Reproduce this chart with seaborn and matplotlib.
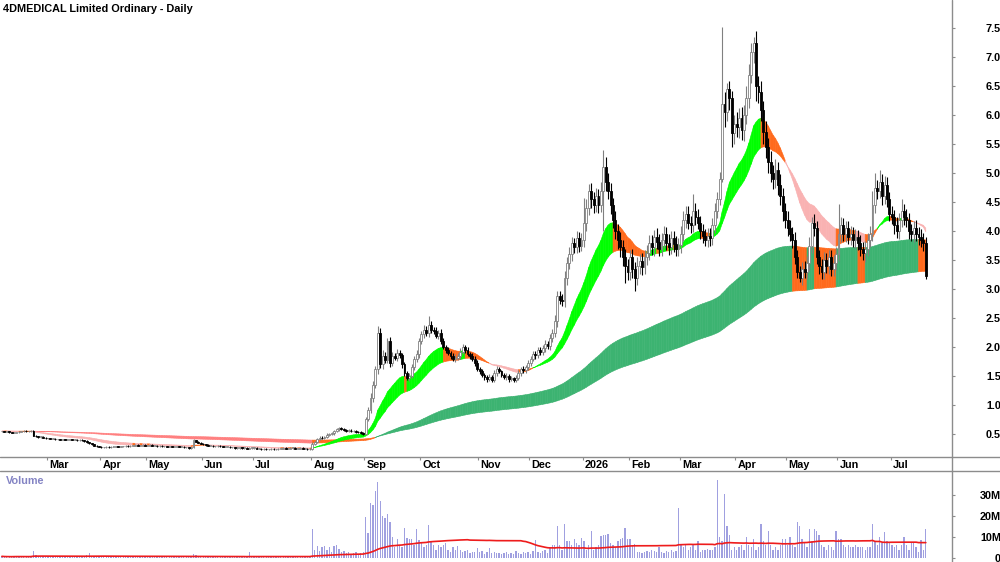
"""
4DMEDICAL daily candlestick chart with moving-average ribbons and volume panel.
"""

import numpy as np
import pandas as pd
import matplotlib
matplotlib.use('Agg')
import matplotlib.pyplot as plt
import matplotlib.transforms as mtransforms
from matplotlib.collections import PolyCollection
from matplotlib.lines import Line2D
import seaborn as sns

# Daily closes, one line per month (Feb 2025 .. Jul 2026)
close = [
    0.55, 0.54, 0.55, 0.53, 0.52, 0.52, 0.53, 0.54, 0.55, 0.56, 0.55, 0.55, 0.56, 0.47, 0.46, 0.45, 0.45, 0.44, 0.43,
    0.43, 0.42, 0.42, 0.41, 0.41, 0.40, 0.41, 0.40, 0.40, 0.41, 0.40, 0.40, 0.39, 0.40, 0.39, 0.38, 0.36, 0.34, 0.32, 0.30, 0.29, 0.28,
    0.27, 0.27, 0.28, 0.27, 0.28, 0.28, 0.29, 0.28, 0.29, 0.29, 0.30, 0.29, 0.30, 0.30, 0.31, 0.30, 0.30, 0.31, 0.30,
    0.30, 0.31, 0.30, 0.30, 0.29, 0.30, 0.29, 0.29, 0.28, 0.29, 0.28, 0.28, 0.29, 0.28, 0.28, 0.27, 0.27, 0.26, 0.27, 0.39, 0.37, 0.35, 0.33,
    0.32, 0.31, 0.30, 0.30, 0.29, 0.29, 0.30, 0.29, 0.28, 0.28, 0.28, 0.27, 0.27, 0.26, 0.26, 0.27, 0.26, 0.26, 0.25, 0.26, 0.26,
    0.26, 0.25, 0.25, 0.24, 0.25, 0.24, 0.24, 0.25, 0.24, 0.24, 0.25, 0.25, 0.26, 0.25, 0.25, 0.26, 0.26, 0.25, 0.25, 0.26, 0.25, 0.25, 0.24, 0.25,
    0.33, 0.36, 0.42, 0.44, 0.43, 0.45, 0.49, 0.50, 0.51, 0.55, 0.58, 0.60, 0.59, 0.57, 0.56, 0.56, 0.55, 0.55, 0.54, 0.53, 0.52, 0.50,
    0.76, 0.92, 1.12, 1.35, 1.62, 2.25, 1.70, 1.85, 1.78, 2.10, 1.72, 1.85, 1.82, 1.90, 1.86, 1.70, 1.55, 1.47, 1.50, 1.65, 1.80, 1.88, 2.10,
    2.22, 2.30, 2.25, 2.38, 2.30, 2.28, 2.20, 2.25, 2.10, 2.00, 1.95, 1.90, 1.85, 1.80, 1.82, 1.85, 1.92, 2.00, 1.95, 1.88, 1.85, 1.80, 1.72, 1.62,
    1.58, 1.52, 1.48, 1.45, 1.48, 1.44, 1.55, 1.62, 1.58, 1.52, 1.48, 1.50, 1.45, 1.46, 1.43, 1.47, 1.55, 1.62, 1.60, 1.65, 1.72,
    1.80, 1.88, 1.86, 1.95, 1.92, 1.98, 2.05, 2.02, 2.15, 2.25, 2.45, 2.88, 2.82, 2.80, 3.20, 3.45, 3.60, 3.80, 3.72, 3.88, 3.75, 3.85,
    4.15, 4.40, 4.70, 4.55, 4.45, 4.60, 4.45, 4.70, 5.10, 4.85, 4.69, 4.45, 4.20, 4.00, 3.85, 3.72, 3.55, 3.40, 3.30,
    3.55, 3.35, 3.20, 3.40, 3.48, 3.38, 3.55, 3.62, 3.80, 3.72, 3.90, 3.82, 3.70, 3.85, 3.95, 3.80, 3.72, 3.88, 3.78, 3.70, 3.76,
    3.95, 4.20, 4.30, 4.15, 4.10, 4.35, 4.25, 4.15, 4.00, 3.92, 3.85, 3.92, 3.88, 4.10, 4.35, 4.55, 4.90, 6.20, 6.05, 6.45, 6.30, 5.70, 5.85,
    5.80, 5.95, 5.75, 6.00, 6.30, 6.70, 7.10, 7.25, 6.50, 6.40, 6.10, 5.72, 5.45, 5.20, 5.00, 4.90, 5.05, 4.80, 4.60, 4.35, 4.20,
    4.05, 3.95, 3.85, 3.55, 3.30, 3.20, 3.35, 3.30, 3.45, 3.75, 4.15, 4.05, 3.55, 3.40, 3.30, 3.50, 3.40, 3.55, 3.35, 3.45, 3.60,
    3.95, 4.10, 3.95, 4.05, 3.90, 3.95, 3.85, 3.90, 3.80, 3.70, 3.62, 3.70, 3.85, 3.95, 4.45, 4.75, 4.70, 4.85, 4.60, 4.80, 4.55, 4.30,
    4.25, 4.10, 4.00, 4.20, 4.35, 4.25, 4.20, 4.00, 3.95, 4.05, 3.95, 3.90, 3.85, 3.80, 3.22,
]

# Wick length above the body top / below the body bottom
wick_up = [
    0.01, 0.01, 0.01, 0.01, 0.01, 0.01, 0.01, 0.01, 0.01, 0.01, 0.01, 0.01, 0.01, 0.01, 0.01, 0.01, 0.01, 0.01, 0.01,
    0.01, 0.01, 0.01, 0.01, 0.01, 0.01, 0.01, 0.01, 0.01, 0.01, 0.01, 0.01, 0.01, 0.01, 0.01, 0.01, 0.01, 0.01, 0.01, 0.01, 0.01, 0.01,
    0.01, 0.01, 0.01, 0.01, 0.01, 0.01, 0.01, 0.01, 0.01, 0.01, 0.01, 0.01, 0.01, 0.01, 0.01, 0.01, 0.01, 0.01, 0.01,
    0.01, 0.01, 0.01, 0.01, 0.01, 0.01, 0.01, 0.01, 0.01, 0.01, 0.01, 0.01, 0.01, 0.01, 0.01, 0.01, 0.01, 0.01, 0.01, 0.02, 0.01, 0.01, 0.01,
    0.01, 0.01, 0.01, 0.01, 0.01, 0.01, 0.01, 0.01, 0.01, 0.01, 0.01, 0.01, 0.01, 0.01, 0.01, 0.01, 0.01, 0.01, 0.01, 0.01, 0.01,
    0.01, 0.01, 0.01, 0.01, 0.01, 0.01, 0.01, 0.01, 0.01, 0.01, 0.01, 0.01, 0.01, 0.01, 0.01, 0.01, 0.01, 0.01, 0.01, 0.01, 0.01, 0.01, 0.01, 0.01,
    0.03, 0.02, 0.02, 0.02, 0.02, 0.02, 0.02, 0.02, 0.02, 0.02, 0.02, 0.02, 0.02, 0.02, 0.02, 0.02, 0.02, 0.02, 0.02, 0.02, 0.02, 0.02,
    0.04, 0.05, 0.08, 0.06, 0.05, 0.11, 0.08, 0.10, 0.06, 0.05, 0.08, 0.06, 0.05, 0.07, 0.05, 0.04, 0.05, 0.04, 0.05, 0.06, 0.05, 0.07, 0.06,
    0.06, 0.08, 0.06, 0.15, 0.07, 0.05, 0.06, 0.05, 0.06, 0.05, 0.04, 0.05, 0.04, 0.05, 0.06, 0.05, 0.06, 0.05, 0.04, 0.05, 0.04, 0.05, 0.04, 0.05,
    0.04, 0.05, 0.03, 0.04, 0.05, 0.04, 0.06, 0.05, 0.04, 0.03, 0.04, 0.05, 0.03, 0.04, 0.03, 0.04, 0.05, 0.04, 0.05, 0.04, 0.05,
    0.05, 0.06, 0.05, 0.06, 0.05, 0.06, 0.07, 0.06, 0.08, 0.07, 0.10, 0.09, 0.08, 0.10, 0.12, 0.10, 0.12, 0.10, 0.09, 0.12, 0.10, 0.12,
    0.42, 0.15, 0.12, 0.14, 0.12, 0.15, 0.13, 0.15, 0.31, 0.18, 0.15, 0.14, 0.12, 0.15, 0.12, 0.14, 0.12, 0.15, 0.12,
    0.12, 0.14, 0.12, 0.15, 0.12, 0.14, 0.12, 0.15, 0.13, 0.14, 0.12, 0.15, 0.13, 0.12, 0.14, 0.12, 0.15, 0.13, 0.12, 0.14, 0.12,
    0.14, 0.15, 0.13, 0.14, 0.12, 0.29, 0.13, 0.14, 0.12, 0.13, 0.12, 0.14, 0.13, 0.12, 0.14, 0.12, 0.13, 1.33, 0.20, 0.10, 0.15, 0.12, 0.15,
    0.20, 0.18, 0.20, 0.18, 0.20, 0.18, 0.15, 0.10, 0.20, 0.18, 0.20, 0.15, 0.18, 0.15, 0.18, 0.15, 0.20, 0.15, 0.18, 0.15, 0.14,
    0.15, 0.14, 0.12, 0.14, 0.12, 0.10, 0.12, 0.14, 0.13, 0.15, 0.10, 0.14, 0.12, 0.13, 0.12, 0.14, 0.12, 0.13, 0.12, 0.14, 0.13,
    0.52, 0.14, 0.12, 0.13, 0.12, 0.14, 0.12, 0.13, 0.12, 0.14, 0.12, 0.13, 0.12, 0.14, 0.25, 0.25, 0.14, 0.20, 0.14, 0.15, 0.14, 0.13,
    0.13, 0.12, 0.14, 0.12, 0.20, 0.12, 0.14, 0.12, 0.13, 0.12, 0.14, 0.12, 0.13, 0.12, 0.10,
]
wick_down = [
    0.01, 0.01, 0.01, 0.01, 0.01, 0.01, 0.01, 0.01, 0.01, 0.01, 0.01, 0.01, 0.01, 0.01, 0.01, 0.01, 0.01, 0.01, 0.01,
    0.01, 0.01, 0.01, 0.01, 0.01, 0.01, 0.01, 0.01, 0.01, 0.01, 0.01, 0.01, 0.01, 0.01, 0.01, 0.01, 0.01, 0.01, 0.01, 0.01, 0.01, 0.01,
    0.01, 0.01, 0.01, 0.01, 0.01, 0.01, 0.01, 0.01, 0.01, 0.01, 0.01, 0.01, 0.01, 0.01, 0.01, 0.01, 0.01, 0.01, 0.01,
    0.01, 0.01, 0.01, 0.01, 0.01, 0.01, 0.01, 0.01, 0.01, 0.01, 0.01, 0.01, 0.01, 0.01, 0.01, 0.01, 0.01, 0.01, 0.01, 0.01, 0.01, 0.01, 0.01,
    0.01, 0.01, 0.01, 0.01, 0.01, 0.01, 0.01, 0.01, 0.01, 0.01, 0.01, 0.01, 0.01, 0.01, 0.01, 0.01, 0.01, 0.01, 0.01, 0.01, 0.01,
    0.01, 0.01, 0.01, 0.01, 0.01, 0.01, 0.01, 0.01, 0.01, 0.01, 0.01, 0.01, 0.01, 0.01, 0.01, 0.01, 0.01, 0.01, 0.01, 0.01, 0.01, 0.01, 0.01, 0.01,
    0.02, 0.02, 0.02, 0.02, 0.02, 0.02, 0.02, 0.02, 0.02, 0.02, 0.02, 0.02, 0.02, 0.02, 0.02, 0.02, 0.02, 0.02, 0.02, 0.02, 0.02, 0.02,
    0.02, 0.04, 0.05, 0.06, 0.05, 0.08, 0.06, 0.07, 0.06, 0.05, 0.06, 0.05, 0.05, 0.06, 0.05, 0.06, 0.05, 0.04, 0.05, 0.04, 0.05, 0.05, 0.06,
    0.05, 0.06, 0.05, 0.07, 0.05, 0.06, 0.05, 0.06, 0.05, 0.04, 0.05, 0.04, 0.05, 0.04, 0.05, 0.04, 0.05, 0.04, 0.05, 0.04, 0.05, 0.04, 0.05, 0.04,
    0.04, 0.03, 0.04, 0.05, 0.03, 0.04, 0.04, 0.05, 0.03, 0.04, 0.03, 0.04, 0.05, 0.04, 0.03, 0.04, 0.04, 0.05, 0.04, 0.05, 0.04,
    0.05, 0.04, 0.06, 0.05, 0.06, 0.05, 0.06, 0.05, 0.07, 0.06, 0.08, 0.10, 0.08, 0.09, 0.10, 0.12, 0.10, 0.12, 0.10, 0.09, 0.11, 0.10,
    0.12, 0.14, 0.12, 0.15, 0.13, 0.12, 0.14, 0.12, 0.70, 0.15, 0.14, 0.16, 0.15, 0.14, 0.15, 0.16, 0.15, 0.30, 0.14,
    0.14, 0.15, 0.23, 0.12, 0.14, 0.13, 0.12, 0.14, 0.12, 0.13, 0.14, 0.12, 0.13, 0.12, 0.14, 0.12, 0.13, 0.12, 0.14, 0.12, 0.13,
    0.13, 0.12, 0.14, 0.12, 0.13, 0.12, 0.14, 0.12, 0.13, 0.12, 0.10, 0.12, 0.13, 0.12, 0.13, 0.12, 0.10, 0.05, 0.25, 0.15, 0.20, 0.25, 0.20,
    0.18, 0.20, 0.18, 0.20, 0.15, 0.18, 0.15, 0.20, 0.25, 0.18, 0.20, 0.22, 0.18, 0.20, 0.15, 0.18, 0.15, 0.18, 0.15, 0.18, 0.15,
    0.14, 0.12, 0.14, 0.12, 0.10, 0.08, 0.12, 0.10, 0.12, 0.14, 0.12, 0.13, 0.12, 0.14, 0.12, 0.13, 0.12, 0.14, 0.12, 0.13, 0.12,
    0.12, 0.13, 0.12, 0.14, 0.12, 0.13, 0.12, 0.14, 0.12, 0.13, 0.12, 0.15, 0.12, 0.13, 0.12, 0.13, 0.14, 0.12, 0.15, 0.13, 0.14, 0.12,
    0.12, 0.14, 0.12, 0.13, 0.12, 0.14, 0.12, 0.13, 0.12, 0.14, 0.12, 0.13, 0.12, 0.14, 0.05,
]

# Daily volume, millions of shares
volume = [
    0.8, 0.6, 0.7, 0.5, 0.6, 0.9, 0.7, 0.6, 0.5, 0.8, 0.7, 0.6, 0.9, 3.3, 1.2, 0.9, 1.0, 0.8, 0.7,
    0.9, 1.1, 0.8, 0.7, 1.0, 0.8, 0.9, 0.7, 0.6, 0.8, 0.7, 0.6, 0.8, 0.7, 0.6, 0.9, 1.2, 2.5, 1.0, 0.9, 0.8, 0.9,
    0.6, 0.7, 0.5, 0.8, 0.6, 0.5, 0.7, 0.6, 0.5, 0.6, 0.7, 0.5, 0.6, 0.8, 0.6, 0.5, 0.7, 0.6, 0.5,
    0.6, 0.7, 0.5, 0.6, 0.8, 0.6, 0.7, 0.5, 0.6, 0.5, 0.7, 0.6, 0.5, 0.6, 0.7, 0.5, 0.6, 0.5, 0.8, 1.8, 1.2, 0.9, 0.7,
    0.6, 0.7, 0.5, 0.6, 0.5, 0.7, 0.6, 0.5, 0.6, 0.7, 0.5, 0.6, 0.5, 0.6, 0.7, 0.5, 0.6, 0.8, 0.9, 3.0, 0.9,
    0.7, 0.6, 0.5, 0.6, 0.7, 0.5, 0.6, 0.5, 0.6, 0.7, 0.5, 0.6, 0.8, 0.6, 0.5, 0.7, 0.6, 0.5, 0.6, 0.7, 0.8, 0.6, 0.7, 0.9,
    14.0, 4.0, 5.5, 3.5, 5.0, 5.8, 4.0, 5.0, 3.0, 5.5, 6.0, 4.5, 3.0, 3.5, 2.5, 3.0, 2.0, 2.5, 3.0, 2.0, 2.5, 3.0,
    19.5, 12.0, 26.0, 25.0, 32.0, 36.0, 27.0, 20.0, 19.0, 21.0, 17.0, 10.0, 5.0, 9.0, 6.0, 5.0, 14.5, 9.5, 9.0, 9.0, 6.0, 13.7, 8.6,
    7.6, 5.0, 6.0, 15.6, 8.0, 6.0, 4.0, 6.0, 5.0, 6.0, 7.3, 4.0, 3.0, 5.0, 4.0, 5.7, 4.0, 3.0, 3.5, 4.0, 2.5, 3.0, 3.0, 4.8,
    3.0, 3.5, 2.0, 3.0, 4.6, 2.5, 3.0, 2.5, 2.5, 2.0, 2.5, 3.0, 2.0, 2.5, 2.0, 3.5, 2.5, 2.0, 3.0, 2.5, 3.0,
    2.0, 3.5, 8.6, 3.0, 2.5, 3.5, 4.0, 2.5, 5.0, 6.0, 6.0, 15.0, 6.0, 4.0, 16.0, 8.0, 8.0, 6.0, 9.0, 7.0, 6.0, 9.5,
    8.0, 4.0, 6.0, 13.0, 4.0, 5.0, 6.0, 10.5, 11.0, 11.0, 11.6, 7.0, 6.0, 5.0, 8.0, 9.0, 9.5, 14.5, 9.0,
    9.0, 6.0, 6.5, 3.0, 3.0, 2.5, 3.0, 3.5, 3.0, 4.0, 3.5, 3.0, 5.0, 3.0, 2.5, 3.5, 3.0, 4.0, 3.0, 3.5, 24.0,
    6.5, 5.0, 6.0, 4.0, 5.0, 6.0, 4.0, 8.0, 3.0, 4.0, 4.0, 4.5, 4.0, 4.0, 5.0, 37.0, 10.0, 8.0, 30.6, 15.0, 11.0, 4.0, 5.0,
    4.0, 5.0, 6.0, 4.0, 10.0, 6.0, 5.0, 9.0, 4.0, 5.0, 16.0, 8.0, 6.0, 13.0, 6.0, 4.0, 5.0, 4.0, 6.0, 9.0, 9.0,
    6.0, 10.0, 6.0, 5.0, 17.0, 15.0, 9.0, 7.0, 5.0, 14.0, 8.0, 14.0, 13.0, 11.0, 6.0, 5.0, 4.0, 6.0, 5.0, 4.0, 13.0,
    9.0, 9.0, 6.0, 5.0, 6.0, 5.0, 5.0, 6.0, 5.0, 5.0, 5.0, 4.0, 5.0, 5.0, 16.0, 8.0, 6.0, 10.0, 7.0, 12.5, 8.0, 7.0,
    6.0, 5.0, 6.0, 4.0, 6.0, 10.0, 6.0, 4.0, 7.0, 7.0, 5.0, 3.0, 8.6, 4.0, 13.6,
]

# First trading day of each month (bar index) and its label
month_start = [19, 41, 60, 83, 104, 128, 150, 173, 197, 218, 240, 259, 280, 303, 324, 345, 367]
month_labels = ['Mar', 'Apr', 'May', 'Jun', 'Jul', 'Aug', 'Sep', 'Oct', 'Nov', 'Dec',
                '2026', 'Feb', 'Mar', 'Apr', 'May', 'Jun', 'Jul']
price_ticks = [0.5, 1.0, 1.5, 2.0, 2.5, 3.0, 3.5, 4.0, 4.5, 5.0, 5.5, 6.0, 6.5, 7.0, 7.5]
volume_ticks = [0, 10, 20, 30]
volume_tick_labels = ['0', '10M', '20M', '30M']

# Colours
GREEN, ORANGE, PINK = '#00ff00', '#ff6a1c', '#f9b2b2'
DARK_GREEN, RED = '#3cb371', '#ff7e7e'
GRAY = '#8c8c8c'
FONT_SIZE = 7.8


def ribbon_colours(fast, slow, c, up_col, mixed_col, down_col):
    """
    Colour of a ribbon at each bar: bullish or bearish order of the
    two averages, orange when the close sits on the other side.
    """
    bull = fast > slow
    return np.where(bull, np.where(c >= fast, up_col, mixed_col),
                    np.where(c <= fast, down_col, mixed_col))


def draw_ribbon(ax, a, b, colours, z):
    """
    Fills the band between two averages, one quad per bar.
    """
    lo = np.minimum(a, b)
    hi = np.maximum(a, b)
    verts = []
    for i in range(len(lo) - 1):
        verts.append([(i, lo[i]), (i + 1, lo[i + 1]),
                      (i + 1, hi[i + 1]), (i, hi[i])])
    cols = list(colours[1:])
    pc = PolyCollection(verts, facecolors=cols, edgecolors=cols,
                        linewidths=0.4, zorder=z)
    ax.add_collection(pc)


n = min(len(close), len(wick_up), len(wick_down), len(volume))
x = np.arange(n)
c = np.array(close[:n])
o = np.concatenate([[c[0]], c[:-1]])
hi = np.maximum(o, c) + np.array(wick_up[:n])
lo = np.minimum(o, c) - np.array(wick_down[:n])
vol = np.array(volume[:n])

s = pd.Series(c)
ema_s_fast = s.ewm(span=20, adjust=False).mean().values
ema_s_slow = s.ewm(span=35, adjust=False).mean().values
ema_l_fast = s.ewm(span=150, adjust=False).mean().values
ema_l_slow = s.ewm(span=250, adjust=False).mean().values
vol_ma = pd.Series(vol).rolling(65, min_periods=1).mean().values

sns.set_theme(style='white')
plt.rcParams['font.family'] = ['Liberation Sans', 'DejaVu Sans']

H = 562.0
fig = plt.figure(figsize=(10, 5.62), dpi=100)
fig.patch.set_facecolor('white')
ax = fig.add_axes([0, 1 - 457 / H, 0.952, 457 / H])
axv = fig.add_axes([0, 0, 0.952, (562 - 471) / H])

# Ribbons
draw_ribbon(ax, ema_l_fast, ema_l_slow,
            ribbon_colours(ema_l_fast, ema_l_slow, c, DARK_GREEN, ORANGE, RED), 1)
draw_ribbon(ax, ema_s_fast, ema_s_slow,
            ribbon_colours(ema_s_fast, ema_s_slow, c, GREEN, ORANGE, PINK), 2)

# Candles
up = c >= o
wick_cols = np.where(up, '#808080', '#000000')
ax.vlines(x, lo, hi, colors=wick_cols, linewidth=0.8, zorder=3)
body_bottom = np.minimum(o, c)
body_height = np.maximum(np.abs(c - o), 0.008)
ax.bar(x[up], body_height[up], bottom=body_bottom[up], width=0.78,
       color='white', edgecolor='#808080', linewidth=0.6, zorder=4)
ax.bar(x[~up], body_height[~up], bottom=body_bottom[~up], width=0.78,
       color='black', edgecolor='black', linewidth=0.6, zorder=4)

ax.set_xlim(-0.8, 391.8)
ax.set_ylim(0.1035, 7.99)

# Price axis on the right
ax.yaxis.tick_right()
ax.set_yticks(price_ticks)
ax.set_yticklabels(['%.1f' % t for t in price_ticks], fontweight='bold')
ax.tick_params(axis='y', right=True, left=False, direction='out', length=2.2,
               width=0.8, color=GRAY, pad=33, labelsize=FONT_SIZE, labelcolor='black')
for lbl in ax.get_yticklabels():
    lbl.set_ha('right')

# Month ticks and labels
ax.set_xticks([m - 0.5 for m in month_start])
ax.tick_params(axis='x', bottom=True, direction='out', length=2.5, width=0.8,
               color=GRAY, labelbottom=False)
trans = mtransforms.blended_transform_factory(ax.transData, ax.transAxes)
for m, lab in zip(month_start, month_labels):
    ax.text(m + 0.4, -8.0 / 457, lab, transform=trans, ha='left', va='center',
            fontsize=FONT_SIZE, fontweight='bold', color='black', clip_on=False)

for sp in ax.spines.values():
    sp.set_visible(False)
ax.grid(False)

# Volume panel
axv.bar(x, vol, width=0.55, color='#a0a0e0', linewidth=0, zorder=2)
sns.lineplot(x=x, y=vol_ma, ax=axv, color='#ee1c1c', linewidth=1.2, zorder=3)
axv.set_xlim(-0.8, 391.8)
axv.set_ylim(-1.9, 41.4)
axv.yaxis.tick_right()
axv.set_yticks(volume_ticks)
axv.set_yticklabels(volume_tick_labels, fontweight='bold')
axv.tick_params(axis='y', right=True, left=False, direction='out', length=2.2,
                width=0.8, color=GRAY, pad=33, labelsize=FONT_SIZE, labelcolor='black')
for lbl in axv.get_yticklabels():
    lbl.set_ha('right')
axv.set_xticks([])
axv.set_xlabel('')
axv.set_ylabel('')
for sp in axv.spines.values():
    sp.set_visible(False)
axv.grid(False)

# Panel frame lines
fig.add_artist(Line2D([0, 1], [1 - 457 / H] * 2, color=GRAY, lw=1.0))
fig.add_artist(Line2D([0, 1], [1 - 471 / H] * 2, color=GRAY, lw=1.0))
fig.add_artist(Line2D([0.952, 0.952], [0, 1], color=GRAY, lw=1.0))

fig.text(0.003, 1 - 9 / H, '4DMEDICAL Limited Ordinary - Daily', fontsize=FONT_SIZE,
         fontweight='bold', color='black', ha='left', va='center')
fig.text(0.006, 1 - 481 / H, 'Volume', fontsize=FONT_SIZE, fontweight='bold',
         color='#8484c4', ha='left', va='center')

fig.savefig('out.png', dpi=100, facecolor='white')
